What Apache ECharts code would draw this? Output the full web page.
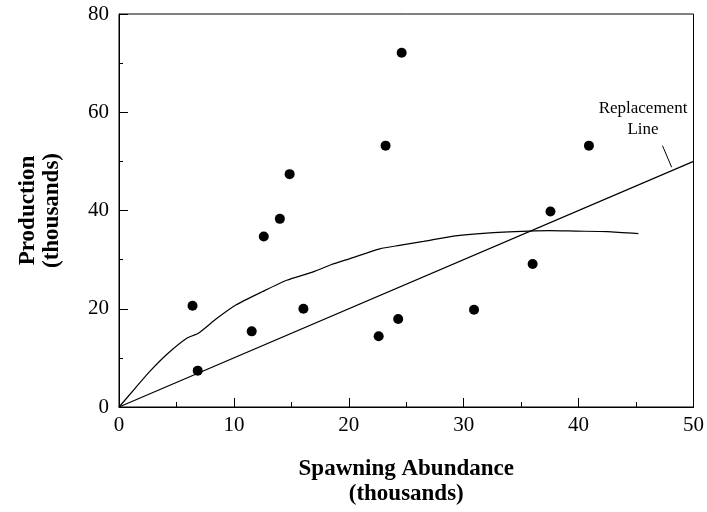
<!DOCTYPE html>
<html>
<head>
<meta charset="utf-8">
<script src="https://cdn.jsdelivr.net/npm/echarts@6/dist/echarts.min.js"></script>
<style>
  html, body { margin: 0; padding: 0; background: #fff; }
  #main { width: 707px; height: 512px; }
</style>
</head>
<body>
<div id="main"></div>
<script>
// observed stock / recruitment points (thousands)
var spawners = [6.4, 6.85, 11.55, 12.6, 14.0, 14.85, 16.05, 22.6, 23.2, 24.3, 24.6, 30.9, 36.0, 37.55, 40.9];
var production = [20.6, 7.4, 15.4, 34.7, 38.3, 47.4, 20.0, 14.4, 53.2, 17.9, 72.1, 19.8, 29.1, 39.8, 53.2];

// fitted curve
var curveX = [0, 1.4, 2.7, 4.2, 5.9, 6.9, 8.5, 10.2, 12.5, 14.6, 16.9, 18.5, 20.1, 22.7, 24.4, 26.5, 29.1, 32, 35.7, 37.5, 39.8, 42.5, 45.2];
var curveY = [0, 3.8, 7.3, 10.8, 14.0, 15.0, 18.0, 20.8, 23.5, 25.8, 27.5, 29.0, 30.2, 32.2, 32.9, 33.7, 34.8, 35.4, 35.8, 35.9, 35.8, 35.7, 35.3];

// replacement line (production = spawners)
var replX = [0, 50];
var replY = [0, 50];

// leader line for the "Replacement Line" note
var leaderX = [47.3, 48.1];
var leaderY = [53.2, 48.8];

function pairs(xs, ys) {
    var out = [];
    for (var i = 0; i < xs.length; i++) out.push([xs[i], ys[i]]);
    return out;
}

var serif = 'Liberation Serif';
var myChart = echarts.init(document.getElementById('main'));

var option = {
    backgroundColor: '#fff',
    animation: false,
    grid: {
        left: 119, right: 13, top: 14, bottom: 103,
        show: true, borderColor: '#000', borderWidth: 1
    },
    xAxis: {
        type: 'value', min: 0, max: 50, interval: 10,
        name: 'Spawning Abundance\n(thousands)',
        nameLocation: 'middle', nameGap: 50,
        nameTextStyle: { fontFamily: serif, fontWeight: 'bold', fontSize: 23, color: '#000', lineHeight: 25 },
        axisLine: { lineStyle: { color: '#000', width: 1 } },
        axisTick: { inside: true, length: 9, lineStyle: { color: '#000' } },
        minorTick: { show: true, splitNumber: 2, length: 5, lineStyle: { color: '#000' } },
        splitLine: { show: false },
        axisLabel: { fontFamily: serif, fontSize: 21, color: '#000', margin: 8 }
    },
    yAxis: {
        type: 'value', min: 0, max: 80, interval: 20,
        name: 'Production\n(thousands)',
        nameLocation: 'middle', nameGap: 55,
        nameTextStyle: { fontFamily: serif, fontWeight: 'bold', fontSize: 23, color: '#000', lineHeight: 24 },
        axisLine: { lineStyle: { color: '#000', width: 1 } },
        axisTick: { inside: true, length: 9, lineStyle: { color: '#000' } },
        minorTick: { show: true, splitNumber: 2, length: 4, lineStyle: { color: '#000' } },
        splitLine: { show: false },
        axisLabel: { fontFamily: serif, fontSize: 21, color: '#000', margin: 10 }
    },
    graphic: [
        {
            type: 'text', x: 643, y: 98,
            style: {
                text: 'Replacement\nLine', fill: '#000', font: '17px "Liberation Serif"',
                align: 'center', verticalAlign: 'top', lineHeight: 21
            }
        }
    ],
    series: [
        {
            type: 'line', data: pairs(curveX, curveY), showSymbol: false, smooth: 0.2,
            lineStyle: { color: '#000', width: 1.2 }, z: 2
        },
        {
            type: 'line', data: pairs(replX, replY), showSymbol: false,
            lineStyle: { color: '#000', width: 1.2 }, z: 2
        },
        {
            type: 'line', data: pairs(leaderX, leaderY), showSymbol: false,
            lineStyle: { color: '#000', width: 1 }, z: 2
        },
        {
            type: 'scatter', data: pairs(spawners, production), symbolSize: 10,
            itemStyle: { color: '#000', opacity: 1 }, z: 3
        }
    ]
};

myChart.setOption(option);
</script>
</body>
</html>
